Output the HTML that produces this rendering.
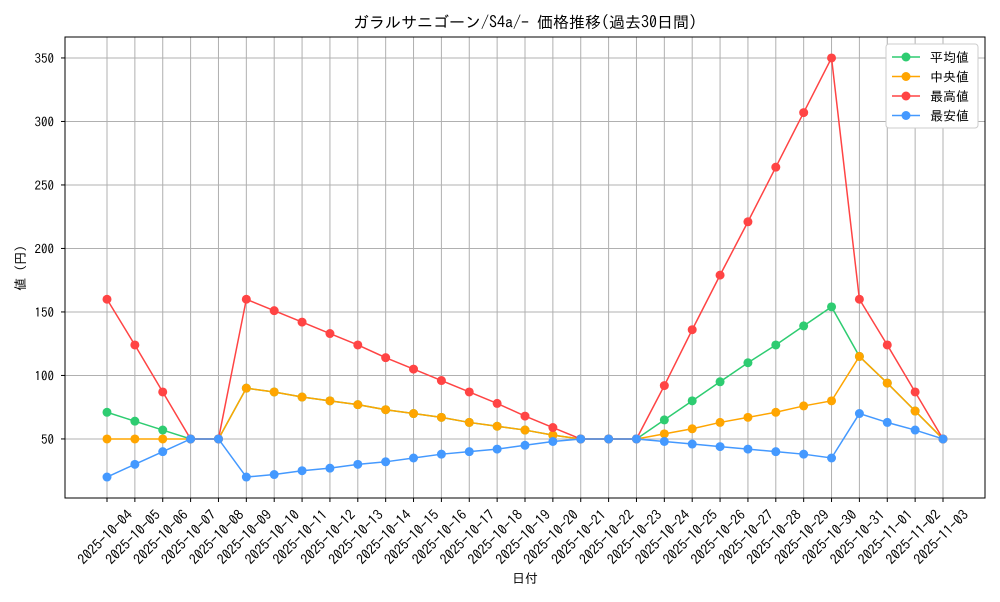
<!DOCTYPE html>
<html><head><meta charset="utf-8"><style>
body{margin:0;background:#fff;font-family:"IPAGothic","Noto Sans CJK JP",sans-serif;}
svg text{font-family:"IPAGothic","Noto Sans CJK JP",sans-serif;fill:#000}
</style></head><body>
<svg id="c" width="1000" height="600" xmlns="http://www.w3.org/2000/svg"></svg>
<script>
const dates=["2025-10-04","2025-10-05","2025-10-06","2025-10-07","2025-10-08","2025-10-09","2025-10-10","2025-10-11","2025-10-12","2025-10-13","2025-10-14","2025-10-15","2025-10-16","2025-10-17","2025-10-18","2025-10-19","2025-10-20","2025-10-21","2025-10-22","2025-10-23","2025-10-24","2025-10-25","2025-10-26","2025-10-27","2025-10-28","2025-10-29","2025-10-30","2025-10-31","2025-11-01","2025-11-02","2025-11-03"];
const avgVals=[71,64,57,50,50,90,87,83,80,77,73,70,67,63,60,57,53,50,50,50,65,80,95,110,124,139,154,115,94,72,50];
const medVals=[50,50,50,50,50,90,87,83,80,77,73,70,67,63,60,57,53,50,50,50,54,58,63,67,71,76,80,115,94,72,50];
const maxVals=[160,124,87,50,50,160,151,142,133,124,114,105,96,87,78,68,59,50,50,50,92,136,179,221,264,307,350,160,124,87,50];
const minVals=[20,30,40,50,50,20,22,25,27,30,32,35,38,40,42,45,48,50,50,50,48,46,44,42,40,38,35,70,63,57,50];
const yTicks=[50,100,150,200,250,300,350];
const seriesNames=["平均値","中央値","最高値","最安値"];
const NS="http://www.w3.org/2000/svg";
const svg=document.getElementById('c');
const L=65,R=985,T=37,B=498;
const yMin=3.5,yMax=366.5;
const x=i=>107+i*(943-107)/(dates.length-1);
const y=v=>B-(v-yMin)/(yMax-yMin)*(B-T);
function mk(t,a,p){const e=document.createElementNS(NS,t);for(const k in a)e.setAttribute(k,a[k]);(p||svg).appendChild(e);return e;}
dates.forEach((d,i)=>{const g=mk('line',{x1:x(i),x2:x(i),y1:T,y2:B,stroke:'#b0b0b0','stroke-width':1});


mk('line',{x1:x(i),x2:x(i),y1:B,y2:B+4,stroke:'#000'});
const cx=x(i)-2,cy=537;
const t=mk('text',{x:cx,y:cy,'font-size':14,'text-anchor':'middle','dominant-baseline':'central',transform:`rotate(-45 ${cx} ${cy})`});
t.textContent=d;

});
yTicks.forEach(v=>{const g=mk('line',{x1:L,x2:R,y1:y(v),y2:y(v),stroke:'#b0b0b0','stroke-width':1});


mk('line',{x1:L-4,x2:L,y1:y(v),y2:y(v),stroke:'#000'});
const t=mk('text',{x:L-11,y:y(v)+5,'font-size':13,'text-anchor':'end'});t.textContent=v;

});
const fr=mk('rect',{x:L,y:T,width:R-L,height:B-T,fill:'none',stroke:'#000'});


const cols=["#2ecc71","#ffa500","#ff4444","#4499ff"];
const data=[avgVals,medVals,maxVals,minVals];
const snames=["series-average","series-median","series-max","series-min"];
data.forEach((arr,s)=>{const g=mk('g',{});


mk('polyline',{points:arr.map((v,i)=>x(i)+','+y(v)).join(' '),fill:'none',stroke:cols[s],'stroke-width':1.5},g);
arr.forEach((v,i)=>{const c=mk('circle',{cx:x(i),cy:y(v),r:4.5,fill:cols[s]},g);

});});
const tt=mk('text',{x:525,y:28,'font-size':16,'text-anchor':'middle'});tt.textContent="ガラルサニゴーン/S4a/- 価格推移(過去30日間)";


const xl=mk('text',{x:525,y:583,'font-size':13,'text-anchor':'middle'});xl.textContent="日付";


const yl=mk('text',{x:25,y:268,'font-size':13,'text-anchor':'middle',transform:'rotate(-90 25 268)'});yl.textContent="値 (円)";


const lg=mk('g',{});


mk('rect',{x:886,y:44,width:92,height:84,fill:'#fff',stroke:'#ccc',rx:3},lg);
seriesNames.forEach((n,k)=>{const yy=57+k*19.5;const e=mk('g',{},lg);


mk('line',{x1:892,x2:920,y1:yy,y2:yy,stroke:cols[k],'stroke-width':1.5},e);
mk('circle',{cx:906,cy:yy,r:4.5,fill:cols[k]},e);
const t=mk('text',{x:930,y:yy+5,'font-size':13},e);t.textContent=(k==1?" ":"")+n;});
</script>
</body></html>
